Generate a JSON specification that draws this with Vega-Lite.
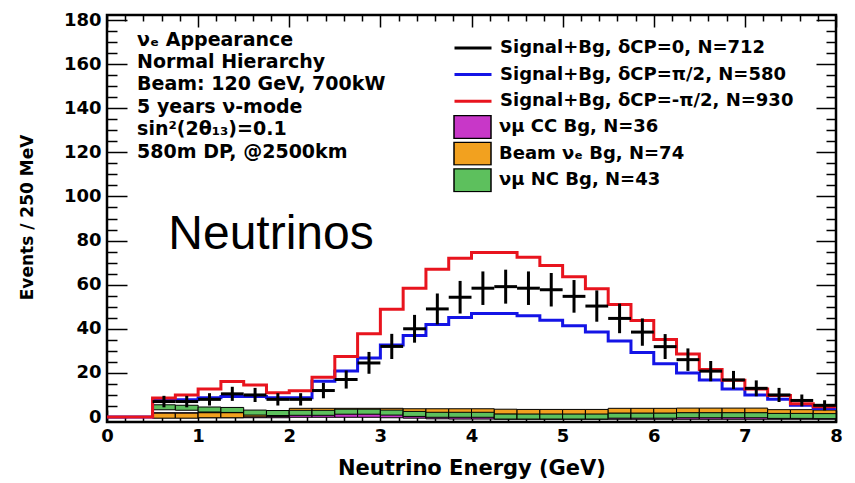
{
  "$schema": "https://vega.github.io/schema/vega-lite/v6.json",
  "width": 729,
  "height": 407,
  "autosize": {"type": "none"},
  "padding": {"left": 107, "top": 15, "right": 19, "bottom": 61},
  "background": "white",
  "config": {
    "view": {"stroke": "black", "strokeWidth": 2.5},
    "font": "DejaVu Sans",
    "axis": {
      "grid": false,
      "domain": false,
      "labelFont": "DejaVu Sans",
      "labelFontWeight": "bold",
      "labelFontSize": 18,
      "labelColor": "black",
      "titleFont": "DejaVu Sans",
      "titleFontWeight": "bold",
      "titleColor": "black",
      "tickColor": "black",
      "tickWidth": 1.5
    }
  },
  "data": {
    "values": [
      {"E0": 0, "E1": 0.25, "Ec": 0.125, "sigPi2": 0, "sigMinusPi2": 0},
      {"E0": 0.25, "E1": 0.5, "Ec": 0.375, "sigPi2": 0, "sigMinusPi2": 0},
      {"E0": 0.5, "E1": 0.75, "Ec": 0.625, "sigPi2": 7.8, "sigMinusPi2": 8.6, "sig0": 7, "lo": 4.4, "hi": 9.6, "bg1cc": 0.8, "bg2nue": 0.6, "bg3nc": 4.4},
      {"E0": 0.75, "E1": 1.0, "Ec": 0.875, "sigPi2": 7.8, "sigMinusPi2": 10.0, "sig0": 7, "lo": 4.4, "hi": 9.6, "bg1cc": 0.8, "bg2nue": 0.6, "bg3nc": 4.2},
      {"E0": 1.0, "E1": 1.25, "Ec": 1.125, "sigPi2": 8.7, "sigMinusPi2": 12.7, "sig0": 8, "lo": 5.2, "hi": 10.8, "bg1cc": 0.8, "bg2nue": 0.8, "bg3nc": 3.4},
      {"E0": 1.25, "E1": 1.5, "Ec": 1.375, "sigPi2": 9.3, "sigMinusPi2": 16.1, "sig0": 10.5, "lo": 7.3, "hi": 13.7, "bg1cc": 0.8, "bg2nue": 0.8, "bg3nc": 3.2},
      {"E0": 1.5, "E1": 1.75, "Ec": 1.625, "sigPi2": 9.3, "sigMinusPi2": 14.5, "sig0": 10, "lo": 6.8, "hi": 13.2, "bg1cc": 0.8, "bg2nue": 1.2, "bg3nc": 2.0},
      {"E0": 1.75, "E1": 2.0, "Ec": 1.875, "sigPi2": 8.7, "sigMinusPi2": 11.0, "sig0": 8, "lo": 5.2, "hi": 10.8, "bg1cc": 0.8, "bg2nue": 1.4, "bg3nc": 1.8},
      {"E0": 2.0, "E1": 2.25, "Ec": 2.125, "sigPi2": 8.7, "sigMinusPi2": 11.9, "sig0": 8, "lo": 5.2, "hi": 10.8, "bg1cc": 1.0, "bg2nue": 2.8, "bg3nc": 1.9},
      {"E0": 2.25, "E1": 2.5, "Ec": 2.375, "sigPi2": 16.2, "sigMinusPi2": 18.0, "sig0": 12, "lo": 8.5, "hi": 15.5, "bg1cc": 1.0, "bg2nue": 2.8, "bg3nc": 1.9},
      {"E0": 2.5, "E1": 2.75, "Ec": 2.625, "sigPi2": 20.8, "sigMinusPi2": 27.4, "sig0": 17, "lo": 12.9, "hi": 21.1, "bg1cc": 1.0, "bg2nue": 2.8, "bg3nc": 2.4},
      {"E0": 2.75, "E1": 3.0, "Ec": 2.875, "sigPi2": 26.7, "sigMinusPi2": 37.7, "sig0": 24.5, "lo": 19.6, "hi": 29.5, "bg1cc": 1.0, "bg2nue": 2.8, "bg3nc": 2.4},
      {"E0": 3.0, "E1": 3.25, "Ec": 3.125, "sigPi2": 32.6, "sigMinusPi2": 48.8, "sig0": 32, "lo": 26.3, "hi": 37.7, "bg1cc": 0.8, "bg2nue": 2.8, "bg3nc": 2.0},
      {"E0": 3.25, "E1": 3.5, "Ec": 3.375, "sigPi2": 37.0, "sigMinusPi2": 58.4, "sig0": 40, "lo": 33.7, "hi": 46.3, "bg1cc": 0.6, "bg2nue": 2.6, "bg3nc": 1.4},
      {"E0": 3.5, "E1": 3.75, "Ec": 3.625, "sigPi2": 41.9, "sigMinusPi2": 67.0, "sig0": 49, "lo": 42.0, "hi": 56.0, "bg1cc": 0.3, "bg2nue": 2.6, "bg3nc": 1.0},
      {"E0": 3.75, "E1": 4.0, "Ec": 3.875, "sigPi2": 45.1, "sigMinusPi2": 72.0, "sig0": 54.3, "lo": 46.9, "hi": 61.7, "bg1cc": 0.2, "bg2nue": 2.6, "bg3nc": 1.0},
      {"E0": 4.0, "E1": 4.25, "Ec": 4.125, "sigPi2": 46.9, "sigMinusPi2": 74.6, "sig0": 58.4, "lo": 50.8, "hi": 66.0, "bg1cc": 0.2, "bg2nue": 2.6, "bg3nc": 1.0},
      {"E0": 4.25, "E1": 4.5, "Ec": 4.375, "sigPi2": 46.9, "sigMinusPi2": 74.6, "sig0": 59.1, "lo": 51.4, "hi": 66.8, "bg1cc": 0.1, "bg2nue": 2.4, "bg3nc": 0.2},
      {"E0": 4.5, "E1": 4.75, "Ec": 4.625, "sigPi2": 45.9, "sigMinusPi2": 72.4, "sig0": 58.4, "lo": 50.8, "hi": 66.0, "bg1cc": 0.1, "bg2nue": 2.3, "bg3nc": 0.2},
      {"E0": 4.75, "E1": 5.0, "Ec": 4.875, "sigPi2": 43.9, "sigMinusPi2": 68.7, "sig0": 57.7, "lo": 50.1, "hi": 65.3, "bg1cc": 0.1, "bg2nue": 2.3, "bg3nc": 0.2},
      {"E0": 5.0, "E1": 5.25, "Ec": 5.125, "sigPi2": 41.4, "sigMinusPi2": 63.6, "sig0": 54.7, "lo": 47.3, "hi": 62.1, "bg1cc": 0.1, "bg2nue": 2.3, "bg3nc": 0.2},
      {"E0": 5.25, "E1": 5.5, "Ec": 5.375, "sigPi2": 38.5, "sigMinusPi2": 58.1, "sig0": 50.3, "lo": 43.2, "hi": 57.4, "bg1cc": 0.1, "bg2nue": 2.3, "bg3nc": 0.2},
      {"E0": 5.5, "E1": 5.75, "Ec": 5.625, "sigPi2": 34.5, "sigMinusPi2": 51.0, "sig0": 44.7, "lo": 38.0, "hi": 51.4, "bg1cc": 0.1, "bg2nue": 2.8, "bg3nc": 0.6},
      {"E0": 5.75, "E1": 6.0, "Ec": 5.875, "sigPi2": 29.2, "sigMinusPi2": 43.7, "sig0": 38.5, "lo": 32.3, "hi": 44.7, "bg1cc": 0.1, "bg2nue": 2.8, "bg3nc": 0.6},
      {"E0": 6.0, "E1": 6.25, "Ec": 6.125, "sigPi2": 24.2, "sigMinusPi2": 35.1, "sig0": 31.9, "lo": 26.3, "hi": 37.6, "bg1cc": 0.1, "bg2nue": 2.8, "bg3nc": 0.6},
      {"E0": 6.25, "E1": 6.5, "Ec": 6.375, "sigPi2": 20.0, "sigMinusPi2": 28.6, "sig0": 26, "lo": 20.9, "hi": 31.1, "bg1cc": 0.1, "bg2nue": 2.9, "bg3nc": 0.8},
      {"E0": 6.5, "E1": 6.75, "Ec": 6.625, "sigPi2": 16.8, "sigMinusPi2": 21.5, "sig0": 20.8, "lo": 16.2, "hi": 25.4, "bg1cc": 0.1, "bg2nue": 2.9, "bg3nc": 0.8},
      {"E0": 6.75, "E1": 7.0, "Ec": 6.875, "sigPi2": 12.7, "sigMinusPi2": 16.7, "sig0": 16.8, "lo": 12.7, "hi": 20.9, "bg1cc": 0.1, "bg2nue": 2.9, "bg3nc": 0.8},
      {"E0": 7.0, "E1": 7.25, "Ec": 7.125, "sigPi2": 10.0, "sigMinusPi2": 12.7, "sig0": 13, "lo": 9.4, "hi": 16.6, "bg1cc": 0.1, "bg2nue": 2.9, "bg3nc": 0.8},
      {"E0": 7.25, "E1": 7.5, "Ec": 7.375, "sigPi2": 8.0, "sigMinusPi2": 9.7, "sig0": 10, "lo": 6.8, "hi": 13.2, "bg1cc": 0.1, "bg2nue": 2.2, "bg3nc": 0.5},
      {"E0": 7.5, "E1": 7.75, "Ec": 7.625, "sigPi2": 5.3, "sigMinusPi2": 6.0, "sig0": 7.5, "lo": 4.8, "hi": 10.2, "bg1cc": 0.1, "bg2nue": 2.2, "bg3nc": 0.5},
      {"E0": 7.75, "E1": 8.0, "Ec": 7.875, "sigPi2": 3.8, "sigMinusPi2": 4.6, "sig0": 5.3, "lo": 3.0, "hi": 7.6, "bg1cc": 0.1, "bg2nue": 2.0, "bg3nc": 0.4},
      {"E0": 8.0, "sigPi2": 3.8, "sigMinusPi2": 4.6}
    ]
  },
  "resolve": {"axis": {"x": "independent", "y": "independent"}},
  "layer": [
    {
      "transform": [
        {"filter": "datum.E0 >= 0.5 && datum.E0 < 8"},
        {"fold": ["bg1cc", "bg2nue", "bg3nc"], "as": ["bg", "n"]}
      ],
      "mark": {"type": "bar", "stroke": "black", "strokeWidth": 1},
      "encoding": {
        "x": {"field": "E0", "type": "quantitative", "scale": {"domain": [0, 8], "nice": false, "zero": false},
          "axis": {"orient": "bottom", "values": [0, 1, 2, 3, 4, 5, 6, 7, 8], "ticks": false, "labelPadding": 5, "labelFlush": false,
            "title": "Neutrino Energy (GeV)", "titleFontSize": 21, "titleBaseline": "middle", "titleY": 46}},
        "x2": {"field": "E1"},
        "y": {"field": "n", "type": "quantitative", "stack": "zero", "scale": {"domain": [0, 180], "nice": false},
          "axis": {"orient": "left", "values": [0, 20, 40, 60, 80, 100, 120, 140, 160, 180], "ticks": false, "labelPadding": 6, "labelFlush": false,
            "title": "Events / 250 MeV", "titleFontSize": 17, "titleX": -80, "titleY": 202, "titleAngle": 270, "titleAlign": "center", "titleBaseline": "middle"}},
        "fill": {"field": "bg", "type": "nominal",
          "scale": {"domain": ["bg1cc", "bg2nue", "bg3nc"], "range": ["#c837c8", "#f2a11f", "#5dc05d"]},
          "legend": {"orient": "none", "legendX": 346, "legendY": 100, "title": null, "padding": 0,
            "symbolType": "M-1,-0.62H1V0.62H-1Z", "symbolSize": 1369, "symbolStrokeColor": "black", "symbolStrokeWidth": 1.5, "symbolOpacity": 1,
            "clipHeight": 24, "rowPadding": 2.6, "labelOffset": 7, "labelLimit": 400,
            "labelFont": "DejaVu Sans", "labelFontWeight": "bold", "labelFontSize": 18, "labelColor": "black",
            "labelExpr": "datum.value === 'bg1cc' ? 'νμ CC Bg, N=36' : datum.value === 'bg2nue' ? 'Beam νₑ Bg, N=74' : 'νμ NC Bg, N=43'"}},
        "order": {"field": "bg", "sort": "ascending"}
      }
    },
    {
      "transform": [{"fold": ["sigPi2", "sigMinusPi2"], "as": ["series", "n"]}],
      "mark": {"type": "line", "interpolate": "step-after", "strokeWidth": 3},
      "encoding": {
        "x": {"field": "E0", "type": "quantitative",
          "axis": {"orient": "bottom", "values": [0, 1, 2, 3, 4, 5, 6, 7, 8], "labels": false, "title": null, "tickSize": -12}},
        "y": {"field": "n", "type": "quantitative",
          "axis": {"orient": "left", "values": [0, 20, 40, 60, 80, 100, 120, 140, 160, 180], "labels": false, "title": null, "tickSize": -20}},
        "stroke": {"field": "series", "type": "nominal",
          "scale": {"domain": ["sig0", "sigPi2", "sigMinusPi2"], "range": ["black", "#1414e6", "#e8141e"]},
          "legend": {"orient": "none", "legendX": 346, "legendY": 21, "title": null, "padding": 0,
            "symbolType": "stroke", "symbolSize": 1369, "symbolStrokeWidth": 3,
            "clipHeight": 24, "rowPadding": 2.6, "labelOffset": 7, "labelLimit": 400,
            "labelFont": "DejaVu Sans", "labelFontWeight": "bold", "labelFontSize": 18, "labelColor": "black",
            "labelExpr": "datum.value === 'sig0' ? 'Signal+Bg, δCP=0, N=712' : datum.value === 'sigPi2' ? 'Signal+Bg, δCP=π/2, N=580' : 'Signal+Bg, δCP=-π/2, N=930'"}},
        "detail": {"field": "series"}
      }
    },
    {
      "transform": [{"filter": "isValid(datum.sig0)"}],
      "mark": {"type": "rule", "strokeWidth": 3},
      "encoding": {
        "x": {"field": "E0", "type": "quantitative",
          "axis": {"orient": "bottom", "values": [0.2, 0.4, 0.6, 0.8, 1.2, 1.4, 1.6, 1.8, 2.2, 2.4, 2.6, 2.8, 3.2, 3.4, 3.6, 3.8, 4.2, 4.4, 4.6, 4.8, 5.2, 5.4, 5.6, 5.8, 6.2, 6.4, 6.6, 6.8, 7.2, 7.4, 7.6, 7.8], "labels": false, "title": null, "tickSize": -6}},
        "x2": {"field": "E1"},
        "y": {"field": "sig0", "type": "quantitative",
          "axis": {"orient": "left", "values": [5, 10, 15, 25, 30, 35, 45, 50, 55, 65, 70, 75, 85, 90, 95, 105, 110, 115, 125, 130, 135, 145, 150, 155, 165, 170, 175], "labels": false, "title": null, "tickSize": -10}},
        "stroke": {"datum": "sig0", "type": "nominal"}
      }
    },
    {
      "transform": [{"filter": "isValid(datum.sig0)"}],
      "mark": {"type": "rule", "strokeWidth": 3, "color": "black"},
      "encoding": {
        "x": {"field": "Ec", "type": "quantitative",
          "axis": {"orient": "top", "values": [0, 1, 2, 3, 4, 5, 6, 7, 8], "labels": false, "title": null, "tickSize": -12}},
        "y": {"field": "lo", "type": "quantitative",
          "axis": {"orient": "right", "values": [0, 20, 40, 60, 80, 100, 120, 140, 160, 180], "labels": false, "title": null, "tickSize": -20}},
        "y2": {"field": "hi"}
      }
    },
    {
      "data": {"values": [{}]},
      "mark": {"type": "text", "align": "left", "baseline": "top", "font": "DejaVu Sans", "fontWeight": "bold", "fontSize": 19, "lineHeight": 22.4, "color": "black"},
      "encoding": {
        "x": {"datum": 0.33, "type": "quantitative",
          "axis": {"orient": "top", "values": [0.2, 0.4, 0.6, 0.8, 1.2, 1.4, 1.6, 1.8, 2.2, 2.4, 2.6, 2.8, 3.2, 3.4, 3.6, 3.8, 4.2, 4.4, 4.6, 4.8, 5.2, 5.4, 5.6, 5.8, 6.2, 6.4, 6.6, 6.8, 7.2, 7.4, 7.6, 7.8], "labels": false, "title": null, "tickSize": -6}},
        "y": {"datum": 175.2, "type": "quantitative",
          "axis": {"orient": "right", "values": [5, 10, 15, 25, 30, 35, 45, 50, 55, 65, 70, 75, 85, 90, 95, 105, 110, 115, 125, 130, 135, 145, 150, 155, 165, 170, 175], "labels": false, "title": null, "tickSize": -10}},
        "text": {"value": ["νₑ Appearance", "Normal Hierarchy", "Beam: 120 GeV, 700kW", "5 years ν-mode", "sin²(2θ₁₃)=0.1", "580m DP, @2500km"]}
      }
    },
    {
      "data": {"values": [{}]},
      "mark": {"type": "text", "align": "center", "baseline": "alphabetic", "font": "Liberation Sans", "fontSize": 48, "color": "black"},
      "encoding": {
        "x": {"datum": 1.8, "type": "quantitative", "axis": null},
        "y": {"datum": 76, "type": "quantitative", "axis": null},
        "text": {"value": "Neutrinos"}
      }
    }
  ]
}
